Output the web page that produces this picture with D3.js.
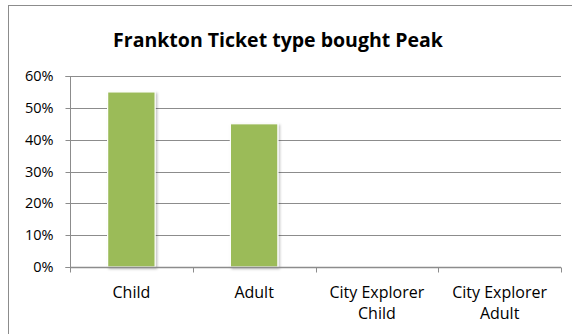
<!DOCTYPE html>
<html>
<head>
<meta charset="utf-8">
<script src="https://cdn.jsdelivr.net/npm/d3@7"></script>
<style>
  body { margin: 0; background: #fff; }
  text { font-family: "Open Sans", "Noto Sans", sans-serif; fill: #000; }
</style>
</head>
<body>
<svg id="chart" width="572" height="334"></svg>
<script>
// data
let categories = [["Child"], ["Adult"], ["City Explorer", "Child"], ["City Explorer", "Adult"]];
let values = [0.55, 0.45, 0, 0];
let yTicks = [0, 0.1, 0.2, 0.3, 0.4, 0.5, 0.6];
let title = "Frankton Ticket type bought Peak";

let svg = d3.select("#chart");
let margin = {left: 70, right: 11, top: 76, bottom: 67};
let W = 572, H = 334;

// chart frame (right/bottom run off the canvas)
svg.append("rect")
  .attr("x", 8.5).attr("y", 5.5)
  .attr("width", 580).attr("height", 340)
  .attr("fill", "#fff").attr("stroke", "#8c8c8c").attr("stroke-width", 1);

let defs = svg.append("defs");
let f = defs.append("filter").attr("id", "shadow")
  .attr("x", "-20%").attr("y", "-10%").attr("width", "150%").attr("height", "130%");
f.append("feDropShadow").attr("dx", 1.5).attr("dy", 1.5).attr("stdDeviation", 1.2)
  .attr("flood-color", "#000").attr("flood-opacity", 0.25);

svg.append("text")
  .attr("x", 278).attr("y", 47)
  .attr("text-anchor", "middle")
  .style("font-size", "19.5px").style("font-weight", "bold")
  .text(title);

let keys = categories.map(c => c.join(" "));
let x = d3.scaleBand()
  .domain(keys)
  .range([margin.left, W - margin.right])
  .paddingInner(0.613)
  .paddingOuter(0.3065);

let y = d3.scaleLinear()
  .domain([0, 0.6])
  .range([H - margin.bottom, margin.top]);

// gridlines
svg.append("g")
  .selectAll("line")
  .data(yTicks.slice(1))
  .join("line")
  .attr("x1", margin.left).attr("x2", W - margin.right)
  .attr("y1", d => Math.round(y(d)) + 0.5).attr("y2", d => Math.round(y(d)) + 0.5)
  .attr("stroke", "#8c8c8c").attr("stroke-width", 1);

// y axis
let yAxis = svg.append("g")
  .attr("transform", `translate(${margin.left + 0.5},0.5)`)
  .call(d3.axisLeft(y).tickValues(yTicks).tickFormat(d3.format(".0%")).tickSize(5).tickPadding(12));
yAxis.select(".domain").attr("stroke", "#8c8c8c").attr("d", `M-5,${Math.round(y(0))}H0V${Math.round(y(0.6))}H-5`);
yAxis.selectAll(".tick line").attr("stroke", "#8c8c8c");
yAxis.selectAll(".tick text").style("font-size", "14.5px").attr("fill", "#000");
yAxis.selectAll(".tick").attr("transform", d => `translate(0,${Math.round(y(d))})`);

// bars
svg.append("g")
  .selectAll("rect")
  .data(values)
  .join("rect")
  .attr("x", (d, i) => x(keys[i]))
  .attr("y", d => y(d))
  .attr("width", x.bandwidth())
  .attr("height", d => y(0) - y(d))
  .attr("fill", "#9bbb59")
  .attr("stroke", "#fff").attr("stroke-width", 1.2)
  .attr("filter", "url(#shadow)")
  .style("display", d => d > 0 ? null : "none");

// x axis
let base = Math.round(y(0)) + 0.5;
let step = x.step();
let bounds = keys.map(k => x(k) + x.bandwidth() / 2 - step / 2).concat([W - margin.right]);
let xg = svg.append("g");
xg.append("line")
  .attr("x1", margin.left).attr("x2", W - margin.right)
  .attr("y1", base).attr("y2", base)
  .attr("stroke", "#8c8c8c").attr("stroke-width", 1.5);
xg.selectAll("line.tick")
  .data(bounds)
  .join("line").attr("class", "tick")
  .attr("x1", d => Math.round(d) + 0.5).attr("x2", d => Math.round(d) + 0.5)
  .attr("y1", base).attr("y2", base + 5)
  .attr("stroke", "#8c8c8c").attr("stroke-width", 1);

xg.selectAll("text.lab")
  .data(categories)
  .join("text").attr("class", "lab")
  .attr("text-anchor", "middle")
  .style("font-size", "16px")
  .attr("transform", (d, i) => `translate(${x(keys[i]) + x.bandwidth() / 2},${base + 30})`)
  .selectAll("tspan")
  .data(d => d)
  .join("tspan")
  .attr("x", 0)
  .attr("dy", (d, j) => j ? 21 : 0)
  .text(d => d);
</script>
</body>
</html>
